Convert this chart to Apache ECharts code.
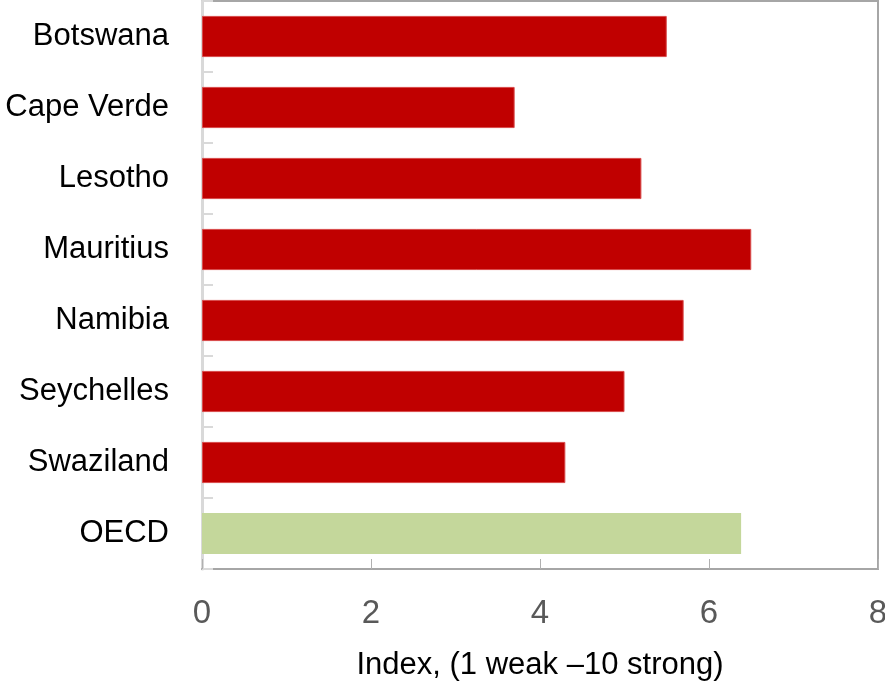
<!DOCTYPE html>
<html>
<head>
<meta charset="utf-8">
<script src="https://cdn.jsdelivr.net/npm/echarts@6/dist/echarts.min.js"></script>
<style>
  html, body { margin: 0; padding: 0; background: #fff; }
  #chart { width: 885px; height: 685px; }
</style>
</head>
<body>
<div id="chart"></div>
<script>
// Governance index by country, OECD average for comparison
const countries = ['Botswana', 'Cape Verde', 'Lesotho', 'Mauritius', 'Namibia', 'Seychelles', 'Swaziland', 'OECD'];
const indexValues = [5.5, 3.7, 5.2, 6.5, 5.7, 5.0, 4.3, 6.38];
const xTicks = [0, 2, 4, 6, 8];

const FONT = '"Liberation Sans Narrow", "Arial Narrow", "Liberation Sans", sans-serif';
const RED = '#c00000';
const GREEN = '#c4d79b';

const chart = echarts.init(document.getElementById('chart'), null, { renderer: 'canvas' });

chart.setOption({
  animation: false,
  backgroundColor: '#ffffff',
  grid: {
    left: 202, right: 7, top: 1, bottom: 116,
    outerBoundsMode: 'none',
    containLabel: false,
    show: true,
    borderColor: '#a6a6a6',
    borderWidth: 2,
    backgroundColor: 'transparent'
  },
  xAxis: {
    type: 'value',
    min: xTicks[0],
    max: xTicks[xTicks.length - 1],
    interval: 2,
    name: 'Index, (1 weak \u201310 strong)',
    nameLocation: 'middle',
    nameGap: 81,
    nameTextStyle: { fontFamily: FONT, fontSize: 31, color: '#000' },
    axisLine: { show: true, lineStyle: { color: '#a6a6a6', width: 2 } },
    axisTick: { show: true, inside: true, length: 10, lineStyle: { color: '#b0b0b0', width: 1 } },
    axisLabel: { fontFamily: FONT, fontSize: 33, color: '#595959', margin: 28 },
    splitLine: { show: false }
  },
  yAxis: {
    type: 'category',
    data: countries,
    inverse: true,
    axisLine: { show: true, lineStyle: { color: '#d9d9d9', width: 3 } },
    axisTick: { show: true, inside: true, length: 11, lineStyle: { color: '#d9d9d9', width: 2 } },
    axisLabel: { fontFamily: FONT, fontSize: 31, color: '#000', margin: 33 },
    splitLine: { show: false }
  },
  series: [{
    type: 'bar',
    barWidth: '58%',
    data: indexValues.map((v, i) => ({
      value: v,
      itemStyle: {
        color: countries[i] === 'OECD' ? GREEN : RED,
        borderColor: countries[i] === 'OECD' ? GREEN : '#d84a4a',
        borderWidth: countries[i] === 'OECD' ? 0 : 1
      }
    }))
  }]
});
</script>
</body>
</html>
